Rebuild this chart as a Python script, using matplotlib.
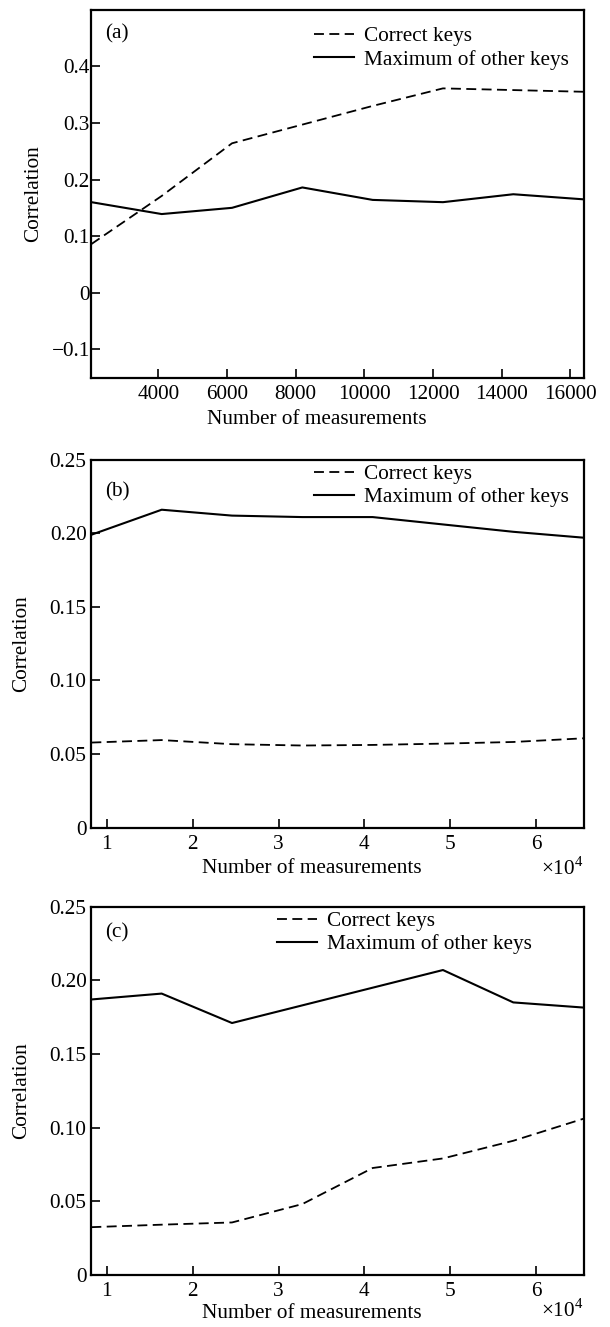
import numpy as np
import matplotlib
matplotlib.use('Agg')
import matplotlib.pyplot as plt

plt.rcParams['font.family'] = ['Liberation Serif', 'DejaVu Serif']
plt.rcParams['mathtext.fontset'] = 'custom'
plt.rcParams['mathtext.rm'] = 'Liberation Serif'
plt.rcParams['font.size'] = 15.3

# panel (a)
xa = [2048, 4096, 6144, 8192, 10240, 12288, 14336, 16384]
a_correct = [0.086, 0.171, 0.264, 0.297, 0.330, 0.361, 0.358, 0.355]
a_other = [0.160, 0.139, 0.150, 0.186, 0.164, 0.160, 0.174, 0.165]

# panel (b)
xb = [8192, 16384, 24576, 32768, 40960, 49152, 57344, 65536]
b_correct = [0.0578, 0.0595, 0.0567, 0.0558, 0.0562, 0.0571, 0.0582, 0.0607]
b_other = [0.199, 0.216, 0.212, 0.211, 0.211, 0.206, 0.201, 0.197]

# panel (c)
xc = [8192, 16384, 24576, 32768, 40960, 49152, 57344, 65536]
c_correct = [0.0323, 0.0340, 0.0355, 0.0480, 0.0725, 0.0790, 0.0910, 0.1060]
c_other = [0.187, 0.191, 0.171, 0.183, 0.195, 0.207, 0.185, 0.1815]

a_xticks = [4000, 6000, 8000, 10000, 12000, 14000, 16000]
a_yticks = [-0.1, 0, 0.1, 0.2, 0.3, 0.4]
a_ylabels = ['\u22120.1', '0', '0.1', '0.2', '0.3', '0.4']
bc_xticks = [10000, 20000, 30000, 40000, 50000, 60000]
bc_xlabels = ['1', '2', '3', '4', '5', '6']
bc_yticks = [0, 0.05, 0.10, 0.15, 0.20, 0.25]
bc_ylabels = ['0', '0.05', '0.10', '0.15', '0.20', '0.25']

fig = plt.figure(figsize=(6.1, 13.27), dpi=100)
left, width, height = 0.1498, 0.8069, 0.2773
ax_a = fig.add_axes([left, 0.7154, width, height])
ax_b = fig.add_axes([left, 0.3763, width, height])
ax_c = fig.add_axes([left, 0.0394, width, height])


def style(ax, ypad):
    for s in ax.spines.values():
        s.set_linewidth(1.6)
    ax.tick_params(direction='in', length=6.5, width=1.2, top=False, right=False)
    ax.tick_params(axis='x', pad=5)
    ax.tick_params(axis='y', pad=ypad)


def draw(ax, x, corr, other, tag, leg_xy, tag_y):
    ax.plot(x, corr, color='black', lw=1.3, dashes=(5.5, 3), label='Correct keys')
    ax.plot(x, other, color='black', lw=1.5, label='Maximum of other keys')
    ax.set_xlim(x[0], x[-1])
    ax.legend(loc='upper left', bbox_to_anchor=leg_xy, frameon=False,
              borderpad=0, borderaxespad=0, handlelength=1.85,
              handletextpad=0.5, labelspacing=0.15)
    ax.text(0.027, tag_y, tag, transform=ax.transAxes, ha='left', va='center')
    ax.set_ylabel('Correlation')
    ax.set_xlabel('Number of measurements')


draw(ax_a, xa, a_correct, a_other, '(a)', (0.453, 0.954), 0.935)
ax_a.set_ylim(-0.15, 0.5)
ax_a.set_xticks(a_xticks)
ax_a.set_xticklabels([str(t) for t in a_xticks])
ax_a.set_yticks(a_yticks)
ax_a.set_yticklabels(a_ylabels)
style(ax_a, 1)
ax_a.yaxis.set_label_coords(-0.098, 0.5)
ax_a.xaxis.set_label_coords(0.458, -0.0888)

for ax, x, corr, other, tag, leg_xy, tag_y, xl_y, mult_y in [
        (ax_b, xb, b_correct, b_other, '(b)', (0.453, 0.987), 0.913, -0.0847, -0.110),
        (ax_c, xc, c_correct, c_other, '(c)', (0.378, 0.988), 0.928, -0.0789, -0.096)]:
    draw(ax, x, corr, other, tag, leg_xy, tag_y)
    ax.set_ylim(0, 0.25)
    ax.set_xticks(bc_xticks)
    ax.set_xticklabels(bc_xlabels)
    ax.set_yticks(bc_yticks)
    ax.set_yticklabels(bc_ylabels)
    style(ax, 3.5)
    ax.yaxis.set_label_coords(-0.123, 0.5)
    ax.xaxis.set_label_coords(0.447, xl_y)
    ax.text(1.0, mult_y, r'$\times\mathrm{10}^{4}$', transform=ax.transAxes,
            ha='right', va='center')

plt.savefig('out.png', dpi=100)
plt.close()
